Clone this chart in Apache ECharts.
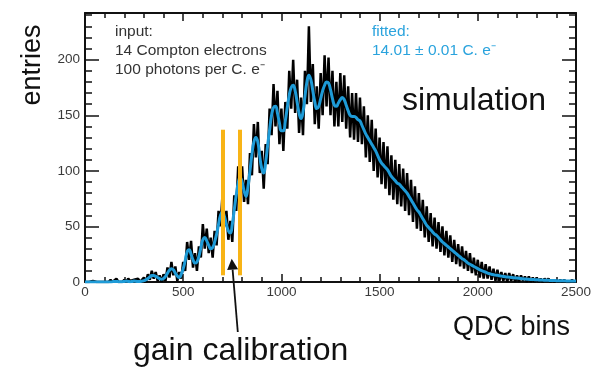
<!DOCTYPE html>
<html>
<head>
<meta charset="utf-8">
<script src="https://cdn.jsdelivr.net/npm/echarts@6/dist/echarts.min.js"></script>
<style>
html,body{margin:0;padding:0;background:#fff;}
#chart{width:594px;height:367px;}
</style>
</head>
<body>
<div id="chart"></div>
<script>
// ---- data ----
const binStart = 0;
const binStep = 10;
// fitted curve (blue), one value per 10 QDC bins, 0..2500
const fitted = [
0,0,0,0,0,0,0,0,0,0,
0,0,0,0,0.3,0.5,0.5,0.3,0.2,0.3,
0.5,0.7,0.5,0.3,0.5,0.8,0.6,0.4,0.5,0.8,
1.2,2,3.2,4.5,5.8,5.8,5,4,3,2.5,
3.2,5,8,10.5,12,11,8,5.5,4,7,
12,19,27,29,25,20,17,18,23,31,
38,40,37,33,30,31,36,43,52,60,
63,59,52,46,44,52,65,78,89,94,
90,82,77,86,100,115,126,130,126,113,
102,98,108,123,137,150,157,158,152,143,
136,136,145,157,168,175,177,172,162,152,
147,153,167,180,186,182,172,162,156,158,
165,172,177,180,179,173,165,159,158,161,
164,166,164,159,154,150,149,149,148,146,
145,141,137,133,130,127,124,121,118,114,
110,107,105,103,101,98,95,93,91,89,
88,86,84,82,80,77,74,71,68,65,
63,60,57,54,51,49,47,45,43,42,
40,38,36,34.5,33,31.5,30,28.5,27,25.5,
24,22.5,21,20,18.5,17,16,15,14,13,
12,11,10.2,9.5,8.8,8,7.5,7,6.6,6.2,
6,5.6,5.3,5,4.7,4.5,4.3,4.1,3.9,3.7,
3.5,3.3,3.1,2.9,2.7,2.5,2.4,2.3,2.2,2.1,
2,1.9,1.8,1.7,1.6,1.5,1.5,1.4,1.3,1.3,
1.2,1.2,1.1,1.1,1.1,1,1,1,1,1,
1
];
// simulated histogram (black), same bins
const simulated = [
0,0,0,0,1,0,0,1,0,0,
0,1,0,2,0,1,3,0,1,0,
2,0,3,1,0,2,1,3,0,2,
4,0,7,2,10,3,9,1,6,0,
7,1,13,4,18,6,14,1,9,3,
18,10,36,20,37,13,26,10,32,22,
52,30,48,26,40,22,46,33,64,50,
78,50,64,38,55,36,78,64,104,82,
104,72,92,70,116,96,142,112,144,98,
118,84,124,106,156,132,178,140,172,124,
156,118,162,138,190,156,200,152,182,134,
166,132,190,160,230,162,196,142,176,138,
188,150,204,158,202,150,190,140,180,140,
188,144,186,138,176,130,170,128,170,126,
166,124,158,112,150,108,146,100,138,94,
130,88,126,84,122,78,114,74,110,70,
106,68,102,64,98,60,92,54,86,48,
80,46,74,40,68,36,62,32,58,30,
54,27,50,24,46,22,42,18,38,16,
34,14,32,12,28,10,26,8,22,6,
20,4,18,3,16,3,14,2,12,1,
11,1,9,1,8,0,8,1,7,0,
6,0,6,1,5,0,5,0,4,0,
4,0,3,0,3,1,3,0,2,0,
2,0,2,0,2,0,1,0,2,0,
1
];
const xTicks = [0, 500, 1000, 1500, 2000, 2500];
const yTicks = [0, 50, 100, 150, 200];
const gainLinesX = [702, 788];
const gainLinesY = [6, 137];
const arrowTail = [778, -45];
const arrowTip = [747, 21];

// ---- chart ----
const FONT = '"Liberation Sans", Arial, Helvetica, sans-serif';
const chart = echarts.init(document.getElementById('chart'), null, {renderer: 'canvas'});
const bins = fitted.map((_, i) => binStart + i * binStep);
const lineC = '#111';

function xAx(pos, labels) {
  return {
    type: 'value', position: pos, min: xTicks[0], max: xTicks[xTicks.length - 1],
    interval: xTicks[1] - xTicks[0],
    axisLine: {show: true, onZero: false, lineStyle: {color: lineC, width: 2}},
    axisTick: {show: true, inside: true, length: 8, lineStyle: {color: lineC, width: 1.5}},
    minorTick: {show: true, splitNumber: 5, length: 5, lineStyle: {color: lineC, width: 1.5}},
    splitLine: {show: false}, minorSplitLine: {show: false},
    axisLabel: {show: labels, margin: 3, fontFamily: FONT, fontSize: 13.5, color: '#3a3a3a',
      formatter: v => String(v)}
  };
}
function yAx(pos, interval, len, line, labels) {
  return {
    type: 'value', position: pos, min: 0, max: 242, interval: interval,
    axisLine: {show: line, onZero: false, lineStyle: {color: lineC, width: 2}},
    axisTick: {show: true, inside: true, length: len, lineStyle: {color: lineC, width: 1.5}},
    splitLine: {show: false},
    axisLabel: {show: labels, margin: 5, fontFamily: FONT, fontSize: 13.5, color: '#3a3a3a',
      formatter: v => (yTicks.indexOf(v) >= 0 ? String(v) : '')}
  };
}

const option = {
  animation: false,
  backgroundColor: '#fff',
  grid: {left: 85, right: 14, top: 13, bottom: 85, containLabel: false},
  xAxis: [xAx('bottom', true), xAx('top', false)],
  yAxis: [
    yAx('left', 50, 14, true, true),
    yAx('left', 10, 7, false, false),
    yAx('right', 50, 14, true, false),
    yAx('right', 10, 7, false, false)
  ],
  series: [
    {
      type: 'line', data: [[gainLinesX[0], 0]], showSymbol: false, lineStyle: {width: 0}, z: 1,
      markLine: {
        silent: true, symbol: 'none', animation: false,
        label: {show: false},
        lineStyle: {color: '#F8B416', width: 4, type: 'solid'},
        emphasis: {disabled: true},
        data: gainLinesX.map(x => [{coord: [x, gainLinesY[0]]}, {coord: [x, gainLinesY[1]]}])
      }
    },
    {
      type: 'line', data: bins.map((b, i) => [b, simulated[i]]), showSymbol: false,
      lineStyle: {color: '#000', width: 2.5}, z: 2, silent: true
    },
    {
      type: 'line', data: bins.map((b, i) => [b, fitted[i]]), showSymbol: false, smooth: 0.5,
      lineStyle: {color: '#1E9BD7', width: 3}, z: 3, silent: true
    }
  ]
};
chart.setOption(option);

const tip = chart.convertToPixel({xAxisIndex: 0, yAxisIndex: 0}, arrowTip);
const tail = chart.convertToPixel({xAxisIndex: 0, yAxisIndex: 0}, arrowTail);
const ang = Math.atan2(tip[1] - tail[1], tip[0] - tail[0]);
const headL = 11, headW = 5.5;
const bx = tip[0] - headL * Math.cos(ang), by = tip[1] - headL * Math.sin(ang);
const px = -Math.sin(ang), py = Math.cos(ang);

function txt(x, y, s, size, color, extra) {
  return Object.assign({
    type: 'text', x: x, y: y, silent: true,
    style: {text: s, fontFamily: FONT, fontSize: size, fill: color, align: 'left', verticalAlign: 'middle'}
  }, extra || {});
}

chart.setOption({
  graphic: [
    txt(115, 31.6, 'input:', 15.5, '#333'),
    txt(115, 50.6, '14 Compton electrons', 15.5, '#333'),
    txt(115, 70, '100 photons per C. e\u207B', 15.5, '#333'),
    txt(372, 31.6, 'fitted:', 15.5, '#2AA3DD'),
    txt(372, 51, '14.01 \u00B1 0.01 C. e\u207B', 15.5, '#2AA3DD'),
    txt(402, 100.8, 'simulation', 32, '#111'),
    txt(453, 327.5, 'QDC bins', 27, '#111'),
    txt(133, 350.8, 'gain calibration', 32, '#111'),
    {
      type: 'text', x: 32.5, y: 65, rotation: Math.PI / 2, silent: true,
      style: {text: 'entries', fontFamily: FONT, fontSize: 27, fill: '#111', align: 'center', verticalAlign: 'middle'}
    },
    {
      type: 'line', silent: true,
      shape: {x1: tail[0], y1: tail[1], x2: bx, y2: by},
      style: {stroke: '#111', lineWidth: 1.8}
    },
    {
      type: 'polygon', silent: true,
      shape: {points: [[tip[0], tip[1]], [bx + px * headW, by + py * headW], [bx - px * headW, by - py * headW]]},
      style: {fill: '#111'}
    }
  ]
});
</script>
</body>
</html>
